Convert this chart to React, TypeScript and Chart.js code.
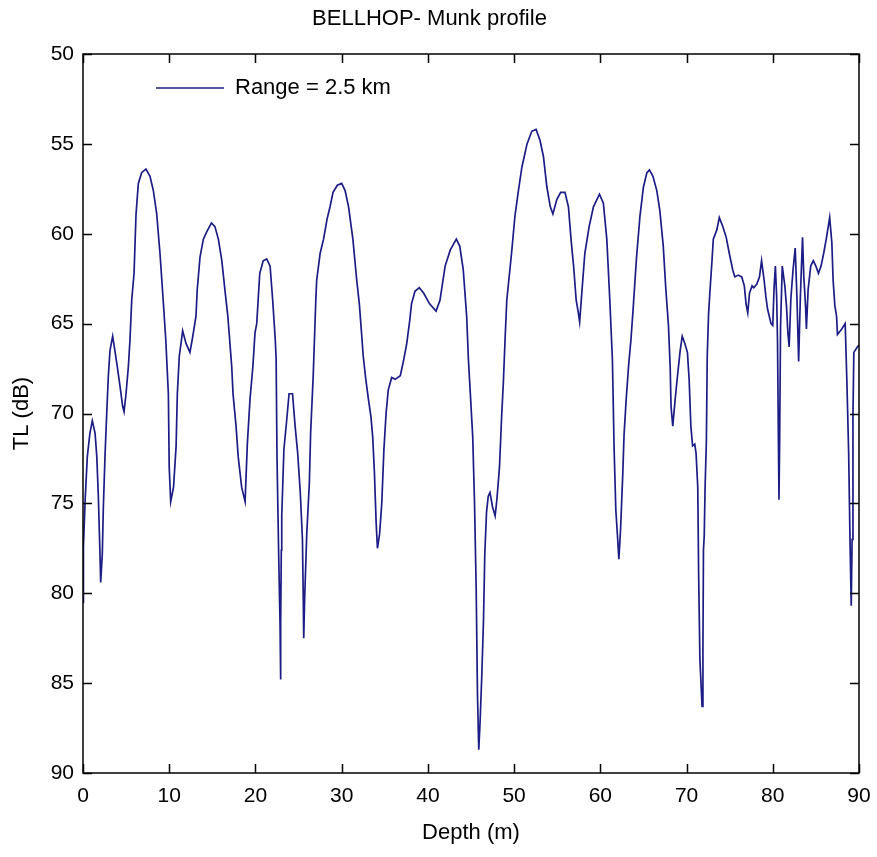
import React, { useEffect, useRef } from 'react';
import { Chart, registerables } from 'chart.js';

Chart.register(...registerables);

const chartTitle = 'BELLHOP- Munk profile';
const seriesLabel = 'Range = 2.5 km';
const xAxisTitle = 'Depth (m)';
const yAxisTitle = 'TL (dB)';
const xTickValues = [0, 10, 20, 30, 40, 50, 60, 70, 80, 90];
const yTickValues = [50, 55, 60, 65, 70, 75, 80, 85, 90];

const depth = [
  0.0, 0.05, 0.25, 0.5, 0.8, 1.08, 1.4, 1.6, 1.78, 1.97, 2.05, 2.24, 2.36, 2.55, 2.75, 2.94, 3.13, 3.44, 3.7, 3.98,
  4.3, 4.6, 4.76, 4.99, 5.26, 5.45, 5.65, 5.92, 6.15, 6.42, 6.8, 7.3, 7.77, 8.16, 8.55, 8.93, 9.3, 9.6, 9.9, 10.0,
  10.17, 10.5, 10.8, 10.94, 11.17, 11.56, 11.95, 12.4, 12.7, 13.1, 13.25, 13.57, 13.96, 14.35, 14.9, 15.3, 15.7, 16.1, 16.5, 16.8,
  17.25, 17.4, 17.75, 18.0, 18.4, 18.8, 19.06, 19.37, 19.7, 19.95, 20.15, 20.5, 20.9, 21.3, 21.7, 22.0, 22.3, 22.4, 22.5, 22.7,
  22.8, 22.85, 22.9, 22.95, 23.0, 23.05, 23.3, 23.6, 23.9, 24.3, 24.6, 24.9, 25.2, 25.45, 25.55, 25.6, 25.7, 25.95, 26.25, 26.4,
  26.7, 27.0, 27.1, 27.5, 27.9, 28.3, 28.65, 29.0, 29.5, 30.0, 30.4, 30.8, 31.3, 31.75, 32.05, 32.3, 32.5, 32.8, 33.1, 33.4,
  33.6, 33.8, 34.0, 34.15, 34.4, 34.65, 34.9, 35.15, 35.4, 35.8, 36.2, 36.8, 37.2, 37.55, 37.9, 38.1, 38.5, 39.0, 39.5, 40.2,
  40.95, 41.4, 42.0, 42.6, 43.3, 43.7, 44.1, 44.5, 44.7, 44.9, 45.2, 45.4, 45.6, 45.75, 45.9, 46.05, 46.25, 46.45, 46.6, 46.8,
  47.0, 47.2, 47.5, 47.8, 48.0, 48.3, 48.55, 48.75, 48.95, 49.15, 49.7, 50.1, 50.5, 50.9, 51.5, 52.05, 52.55, 53.0, 53.4, 53.8,
  54.2, 54.5, 54.95, 55.4, 55.9, 56.3, 56.6, 56.9, 57.2, 57.45, 57.6, 57.85, 58.2, 58.7, 59.2, 59.9, 60.35, 60.75, 61.1, 61.4,
  61.6, 61.8, 62.0, 62.15, 62.35, 62.6, 62.75, 63.0, 63.3, 63.55, 63.8, 64.2, 64.6, 65.0, 65.4, 65.7, 66.1, 66.55, 66.9, 67.3,
  67.6, 67.9, 68.1, 68.2, 68.4, 68.7, 68.95, 69.26, 69.5, 69.8, 70.1, 70.3, 70.5, 70.7, 70.95, 71.1, 71.3, 71.4, 71.55, 71.8,
  71.9, 71.96, 72.05, 72.15, 72.3, 72.4, 72.55, 72.7, 72.95, 73.1, 73.5, 73.8, 74.2, 74.6, 74.96, 75.35, 75.6, 76.0, 76.4, 76.7,
  76.9, 77.1, 77.3, 77.6, 77.8, 78.15, 78.46, 78.7, 79.0, 79.2, 79.4, 79.6, 79.8, 80.0, 80.15, 80.3, 80.45, 80.55, 80.65, 80.72,
  80.8, 80.9, 81.1, 81.4, 81.6, 81.75, 81.9, 82.1, 82.35, 82.6, 82.8, 83.0, 83.2, 83.45, 83.6, 83.8, 83.9, 84.1, 84.4, 84.7,
  85.0, 85.3, 85.6, 85.9, 86.2, 86.6, 86.85, 87.0, 87.2, 87.4, 87.5, 88.0, 88.4, 88.6, 88.8, 88.97, 89.1, 89.2, 89.3, 89.4,
  89.8, 90.0,
];

const tlValues = [
  80.5, 77.4, 74.8, 72.4, 71.1, 70.4, 71.1, 72.4, 74.6, 77.8, 79.4, 77.8, 75.2, 72.4, 70.0, 67.9, 66.5, 65.7, 66.5, 67.4,
  68.5, 69.6, 69.9, 68.9, 67.4, 65.9, 63.7, 62.2, 58.9, 57.2, 56.6, 56.4, 56.8, 57.6, 58.9, 61.1, 63.7, 65.9, 68.9, 73.0,
  74.9, 74.1, 71.8, 68.9, 66.8, 65.4, 66.1, 66.6, 65.8, 64.6, 63.1, 61.3, 60.3, 59.9, 59.4, 59.6, 60.3, 61.5, 63.3, 64.6,
  67.4, 68.9, 70.7, 72.4, 74.1, 74.9, 71.7, 69.2, 67.4, 65.5, 65.0, 62.2, 61.5, 61.4, 61.8, 63.7, 65.9, 67.0, 72.4, 78.0,
  80.4, 81.6, 84.8, 81.6, 77.6, 75.7, 72.0, 70.5, 68.9, 68.9, 70.7, 72.2, 74.4, 77.0, 80.4, 82.5, 80.4, 76.7, 73.9, 71.1,
  67.9, 63.7, 62.6, 61.1, 60.3, 59.2, 58.5, 57.7, 57.3, 57.2, 57.6, 58.5, 60.3, 62.6, 63.9, 65.5, 66.8, 68.1, 69.2, 70.2,
  71.3, 73.3, 76.1, 77.5, 76.7, 75.0, 72.0, 70.0, 68.7, 68.0, 68.1, 67.9, 67.0, 66.1, 64.8, 63.9, 63.2, 63.0, 63.3, 63.9,
  64.3, 63.7, 61.8, 60.9, 60.3, 60.7, 62.0, 64.6, 67.0, 68.7, 71.3, 74.8, 79.7, 85.6, 88.7, 87.2, 84.6, 81.5, 77.8, 75.5,
  74.6, 74.4, 75.2, 75.7, 74.8, 73.0, 70.2, 68.3, 65.9, 63.7, 61.1, 59.0, 57.6, 56.3, 55.0, 54.3, 54.2, 54.8, 55.7, 57.4,
  58.5, 58.9, 58.1, 57.7, 57.7, 58.5, 60.3, 61.8, 63.7, 64.4, 64.9, 63.3, 61.1, 59.6, 58.5, 57.8, 58.3, 60.3, 63.7, 67.0,
  72.0, 75.4, 76.9, 78.1, 76.4, 73.4, 71.2, 69.2, 67.2, 65.9, 64.2, 61.3, 59.0, 57.4, 56.6, 56.45, 56.8, 57.6, 58.7, 60.7,
  63.1, 65.1, 67.4, 69.6, 70.7, 69.1, 67.9, 66.5, 65.7, 66.1, 66.6, 68.1, 70.7, 71.8, 71.7, 72.2, 74.1, 78.9, 83.7, 86.3,
  83.1, 77.6, 76.8, 74.1, 71.5, 66.8, 64.5, 63.3, 61.5, 60.3, 59.8, 59.1, 59.6, 60.2, 61.1, 62.0, 62.4, 62.3, 62.4, 62.9,
  63.9, 64.4, 63.3, 62.9, 63.0, 62.8, 62.4, 61.5, 62.6, 63.5, 64.2, 64.6, 65.0, 65.1, 63.0, 61.8, 63.5, 66.0, 71.3, 74.8,
  71.3, 65.2, 61.8, 62.9, 64.1, 65.5, 66.3, 63.6, 62.0, 60.8, 63.5, 67.1, 63.5, 60.2, 62.4, 64.0, 65.3, 63.1, 61.8, 61.5,
  61.8, 62.2, 61.8, 61.1, 60.3, 59.1, 60.5, 62.6, 64.0, 64.6, 65.6, 65.3, 65.0, 68.3, 72.2, 77.4, 80.7, 77.0, 70.2, 66.6,
  66.3, 66.2,
];

const FONT = "'Liberation Sans', Arial, Helvetica, sans-serif";

const boxPlugin = {
  id: 'matlabBox',
  beforeDraw(chart: any) {
    const lg = chart.legend;
    if (lg) {
      lg.left = 156;
      lg.top = 77;
    }
  },
  afterDraw(chart: any) {
    const { ctx, chartArea: a, scales } = chart;
    ctx.save();
    ctx.strokeStyle = '#000';
    ctx.lineWidth = 1.5;
    ctx.strokeRect(a.left, a.top, a.right - a.left, a.bottom - a.top);
    const L = 9;
    ctx.beginPath();
    scales.x.ticks.forEach((t: any) => {
      const px = Math.round(scales.x.getPixelForValue(t.value)) + 0.5;
      ctx.moveTo(px, a.bottom);
      ctx.lineTo(px, a.bottom - L);
      ctx.moveTo(px, a.top);
      ctx.lineTo(px, a.top + L);
    });
    scales.y.ticks.forEach((t: any) => {
      const py = Math.round(scales.y.getPixelForValue(t.value)) + 0.5;
      ctx.moveTo(a.left, py);
      ctx.lineTo(a.left + L, py);
      ctx.moveTo(a.right, py);
      ctx.lineTo(a.right - L, py);
    });
    ctx.stroke();
    ctx.restore();
  },
};

export default function App() {
  const ref = useRef<HTMLCanvasElement | null>(null);
  useEffect(() => {
    if (!ref.current) return;
    const points = depth.map((d, i) => ({ x: d, y: tlValues[i] }));
    const chart = new Chart(ref.current, {
      type: 'line',
      data: {
        datasets: [
          {
            label: seriesLabel,
            data: points,
            borderColor: '#1c1c86',
            backgroundColor: '#1c1c86',
            borderWidth: 1.7,
            pointRadius: 0,
            tension: 0,
            fill: false,
          },
        ],
      },
      options: {
        responsive: false,
        animation: false,
        maintainAspectRatio: false,
        layout: { padding: { left: 0, right: 18, top: 0, bottom: 0 } },
        plugins: {
          title: {
            display: true,
            text: chartTitle,
            color: '#000',
            font: { family: FONT, size: 22, weight: 'normal' },
            padding: { top: 6, bottom: 21.6 },
          },
          legend: {
            display: true,
            position: 'chartArea',
            align: 'start',
            labels: {
              usePointStyle: true,
              pointStyle: 'line',
              pointStyleWidth: 68,
              padding: 0,
              color: '#000',
              font: { family: FONT, size: 22 },
            },
          },
          tooltip: { enabled: false },
        },
        scales: {
          x: {
            type: 'linear',
            min: 0,
            max: 90,
            afterFit: (s: any) => {
              s.height = 84;
              s.paddingLeft = 0;
              s.paddingRight = 0;
            },
            afterBuildTicks: (s: any) => {
              s.ticks = xTickValues.map((v) => ({ value: v }));
            },
            grid: { display: false, drawTicks: false },
            border: { display: false },
            ticks: {
              autoSkip: false,
              maxRotation: 0,
              padding: 11,
              color: '#000',
              font: { family: FONT, size: 21 },
            },
            title: {
              display: true,
              text: xAxisTitle,
              color: '#000',
              font: { family: FONT, size: 22 },
              padding: { top: 0, bottom: 11 },
            },
          },
          y: {
            type: 'linear',
            reverse: true,
            min: 50,
            max: 90,
            afterFit: (s: any) => {
              s.width = 83;
            },
            afterBuildTicks: (s: any) => {
              s.ticks = yTickValues.map((v) => ({ value: v }));
            },
            grid: { display: false, drawTicks: false },
            border: { display: false },
            ticks: {
              autoSkip: false,
              padding: 9,
              color: '#000',
              font: { family: FONT, size: 21 },
            },
            title: {
              display: true,
              text: yAxisTitle,
              color: '#000',
              font: { family: FONT, size: 22 },
              padding: { top: 9, bottom: 0 },
            },
          },
        },
      },
      plugins: [boxPlugin],
    });
    return () => chart.destroy();
  }, []);
  return (
    <div style={{ position: 'fixed', left: 0, top: 0, width: 877, height: 857, background: '#fff' }}>
      <canvas ref={ref} width={877} height={857} style={{ display: 'block' }} />
    </div>
  );
}
